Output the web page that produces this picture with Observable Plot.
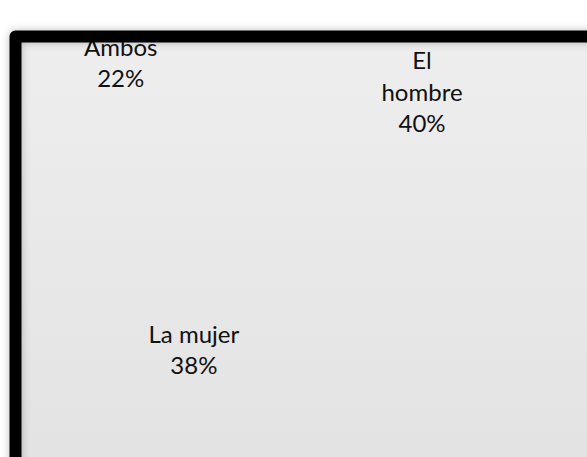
<!DOCTYPE html>
<html><head><meta charset="utf-8">
<script src="https://cdn.jsdelivr.net/npm/d3@7"></script>
<script src="https://cdn.jsdelivr.net/npm/@observablehq/plot@0.6"></script>
<style>html,body{margin:0;padding:0;background:#fff;overflow:hidden}</style>
</head><body><div id="chart"></div>
<script>
// Data (pie: first slice at top, clockwise)
const categories = ["El hombre", "La mujer", "Ambos"];
const percentages = [40, 38, 22];

// Pie layout (the slices themselves are not painted in the original)
const W = 587, H = 457;
const pieCenter = [261, 178], labelRadius = 183;
const startAngle = -10.7 * Math.PI / 180;

const arcs = d3.pie().sort(null).startAngle(startAngle).endAngle(startAngle + 2 * Math.PI)(percentages);
const labels = arcs.map((a, i) => {
  const mid = (a.startAngle + a.endAngle) / 2;
  return {label: `${categories[i]}\n${percentages[i]}%`, ux: Math.sin(mid), uy: Math.cos(mid)};
});

const chart = Plot.plot({
  width: W, height: H,
  marginLeft: 15, marginTop: 36, marginRight: -40, marginBottom: -40,
  x: {domain: [-1, 1], range: [pieCenter[0] - labelRadius, pieCenter[0] + labelRadius], axis: null},
  y: {domain: [-1, 1], range: [pieCenter[1] + labelRadius, pieCenter[1] - labelRadius], axis: null},
  style: {fontFamily: "Lato, 'Open Sans', sans-serif", background: "#fff"},
  marks: [
    Plot.frame({fill: "url(#plotbg)", stroke: null}),
    Plot.text(labels, {x: "ux", y: "uy", text: "label", fontSize: 24, lineHeight: 1.3, lineWidth: 4.2, fill: "#111"}),
    Plot.frame({stroke: "#000", strokeWidth: 12, strokeLinejoin: "round", fill: "none"})
  ]
});

const svg = d3.select(chart);
const defs = svg.insert("defs", ":first-child");
const g = defs.append("linearGradient").attr("id", "plotbg").attr("x1", 0).attr("y1", 0).attr("x2", 0).attr("y2", 1);
g.append("stop").attr("offset", "0%").attr("stop-color", "#eeeeee");
g.append("stop").attr("offset", "100%").attr("stop-color", "#e2e2e2");
const f = defs.append("filter").attr("id", "shadow").attr("x", "-10%").attr("y", "-10%").attr("width", "120%").attr("height", "120%");
f.append("feDropShadow").attr("dx", 0).attr("dy", 0).attr("stdDeviation", 4).attr("flood-color", "#000").attr("flood-opacity", 0.25);
const frames = svg.selectAll("[aria-label=frame]").nodes();
if (frames.length) d3.select(frames[frames.length - 1]).attr("filter", "url(#shadow)");

document.getElementById("chart").appendChild(chart);
</script>
</body></html>
